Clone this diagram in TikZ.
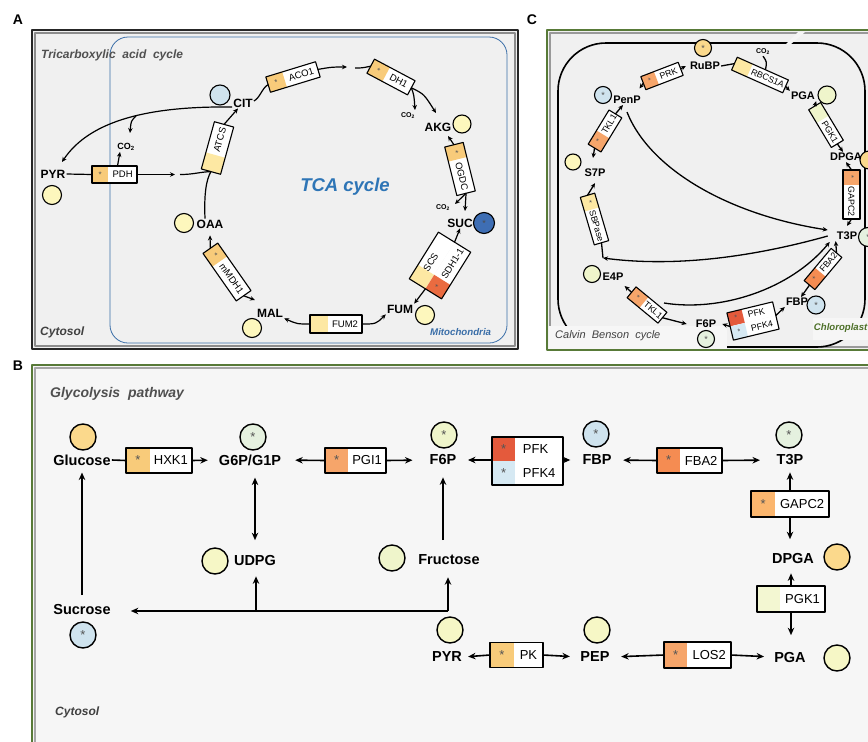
\documentclass[tikz,border=0pt]{standalone}
\usepackage{fontspec}
\setmainfont{Liberation Sans}
\usetikzlibrary{arrows.meta,calc}
\definecolor{cYel}{HTML}{FDF7BD}
\definecolor{cLBlue}{HTML}{CFE3EE}
\definecolor{cDBlue}{HTML}{3E6EB4}
\definecolor{cOY}{HTML}{F8CB7A}
\definecolor{cYel2}{HTML}{FDE8A3}
\definecolor{cRed}{HTML}{E45A3C}
\definecolor{cSDH}{HTML}{EA6B40}
\definecolor{cOr}{HTML}{F6A56A}
\definecolor{cOr2}{HTML}{F58C52}
\definecolor{cOr3}{HTML}{FBB66E}
\definecolor{cLB2}{HTML}{D6E9F3}
\definecolor{cLGY}{HTML}{EFF5CB}
\definecolor{cLG}{HTML}{E5F1DF}
\definecolor{cOYc}{HTML}{FBD98C}
\definecolor{cLY}{HTML}{F6F7C6}
\definecolor{cLY2}{HTML}{F3F7D2}
\definecolor{starcol}{HTML}{555555}
\definecolor{mitoc}{HTML}{3A6EA8}
\definecolor{tcac}{HTML}{2E75B6}
\definecolor{grnD}{HTML}{587A38}
\definecolor{labgray}{HTML}{505050}
\definecolor{bgA}{HTML}{F0F0F0}
\definecolor{bgB}{HTML}{F6F6F6}
\definecolor{chlg}{HTML}{4D7028}

\newcommand{\enzrow}[9]{%
  \pgfmathsetmacro\enzA{#6*0.5}\pgfmathsetmacro\enzB{0.5+#6*0.5}%
  \node[rotate=#3, minimum width=#4, minimum height=#5, inner sep=0pt, outer sep=0pt, fill=white] (#1) at #2 {};
  \fill[#7] (#1.south west) -- (#1.north west) -- ($(#1.north west)!#6!(#1.north east)$) -- ($(#1.south west)!#6!(#1.south east)$) -- cycle;
  \node[rotate=#3, enzstar] (#1-s) at ($(#1.west)!\enzA!(#1.east)$) {#8};
  \node[rotate=#3, enzlab] (#1-t) at ($(#1.west)!\enzB!(#1.east)$) {#9};
}
\newcommand{\enzborder}[1]{\draw[enzline] (#1.south west) -- (#1.north west) -- (#1.north east) -- (#1.south east) -- cycle;}
\newcommand{\enzyme}[9]{\enzrow{#1}{#2}{#3}{#4}{#5}{#6}{#7}{#8}{#9}\enzborder{#1}}

\tikzset{
  metA/.style={font=\bfseries\fontsize{12}{14}\selectfont, inner sep=1pt},
  metB/.style={font=\bfseries\fontsize{14.5}{16}\selectfont, inner sep=1pt},
  metC/.style={font=\bfseries\fontsize{11}{13}\selectfont, inner sep=1pt},
  co2l/.style={font=\bfseries\fontsize{9}{10}\selectfont, inner sep=1pt},
  co2s/.style={font=\bfseries\fontsize{7}{8}\selectfont, inner sep=1pt},
  mcirc/.style={circle, draw=black, line width=1.1pt, minimum size=#1, inner sep=0pt, text=starcol, font=\fontsize{9}{9}\selectfont},
  mcircB/.style={circle, draw=black, line width=1.4pt, minimum size=#1, inner sep=0pt, text=starcol, font=\fontsize{13}{13}\selectfont},
  lnA/.style={line width=1.2pt},
  arrA/.style={lnA, -{Stealth[length=5pt,width=4.5pt]}},
  lnC/.style={line width=1.3pt},
  arrC/.style={lnC, -{Stealth[length=5pt,width=4.5pt]}},
  lnB/.style={line width=1.6pt},
  arrB/.style={lnB, -{Stealth[length=7.5pt,width=6.5pt]}},
  arrBB/.style={lnB, {Stealth[length=7.5pt,width=6.5pt]}-{Stealth[length=7.5pt,width=6.5pt]}},
  plab/.style={font=\bfseries\fontsize{14}{14}\selectfont},
  ttl/.style={font=\bfseries\itshape\fontsize{12}{14}\selectfont, text=labgray, anchor=west, inner sep=0pt},
}

\begin{document}
\begin{tikzpicture}[x=1pt,y=-1pt,line join=round]
\useasboundingbox (0,0) rectangle (868,742);
\clip (0,0) rectangle (868,742);
\fill[white] (0,0) rectangle (868,742);

\node[plab] (labA) at (18,20) {A};
\node[plab] (labB) at (18,366) {B};
\node[plab] (labC) at (532,20) {C};

%%%%%%%%%%%%%%%% PANEL A
\begin{scope}[enzlab/.style={font=\fontsize{9.5}{10}\selectfont, inner sep=0pt},
  enzstar/.style={font=\fontsize{8}{8}\selectfont, text=starcol, inner sep=0pt},
  enzline/.style={draw=black, line width=1.1pt}]
\fill[bgA] (32,30) rectangle (518,349);
\draw[line width=1.5pt, draw=black!45] (35,33) rectangle (515,346);
\draw[line width=2pt, draw=black!85] (32,30) rectangle (518,349);
\draw[mitoc, line width=0.8pt, rounded corners=18pt] (110,37) rectangle (507,343);

\node[ttl] (ttlA) at (41,55) {Tricarboxylic\ \ acid\ \ cycle};
\node[ttl, text=black!75] (cytA) at (40,332) {Cytosol};
\node[ttl, text=mitoc, font=\bfseries\itshape\fontsize{9.7}{11}\selectfont] (mitoA) at (430,332) {Mitochondria};
\node[font=\bfseries\itshape\fontsize{18.5}{20}\selectfont, text=tcac] (tca) at (345,187) {TCA cycle};

\node[metA] (pyrA) at (53,174) {PYR};
\node[mcirc=19pt, fill=cYel] (pyrAc) at (52,195) {};
\node[metA] (cit) at (243,103) {CIT};
\node[mcirc=20pt, fill=cLBlue] (citc) at (220,95) {};
\node[metA] (akg) at (438,127) {AKG};
\node[mcirc=18pt, fill=cYel] (akgc) at (462,124) {};
\node[metA] (suc) at (460,223) {SUC};
\node[mcirc=21pt, fill=cDBlue, text=black!70] (succ) at (484,223) {*};
\node[metA] (fum) at (400,309) {FUM};
\node[mcirc=19pt, fill=cYel] (fumc) at (425,315) {};
\node[metA] (mal) at (270,313) {MAL};
\node[mcirc=19pt, fill=cYel] (malc) at (252,328) {};
\node[metA] (oaa) at (210,224) {OAA};
\node[mcirc=19pt, fill=cYel] (oaac) at (184,223) {};
\node[co2l] (co2a) at (126,147) {CO\textsubscript{2}};
\node[co2s] (co2b) at (408,116) {CO\textsubscript{2}};
\node[co2s] (co2c) at (443,208) {CO\textsubscript{2}};

\enzyme{pdh}{(114.5,174.5)}{0}{45pt}{17pt}{0.36}{cOY}{*}{PDH}
\enzyme{aco}{(293,77)}{17}{52pt}{16pt}{0.33}{cOY}{*}{ACO1}
\enzyme{dh}{(391,77)}{-28}{46pt}{16pt}{0.38}{cOY}{*}{DH1}
\enzyme{ogdc}{(460,169)}{-76}{50pt}{19pt}{0.3}{cOY}{*}{OGDC}
\enzyme{atcs}{(217.5,148)}{74.5}{49pt}{20pt}{0.35}{cYel2}{}{ATCS}
\enzyme{mmdh}{(227,272)}{-55}{58pt}{18pt}{0.28}{cOY}{*}{mMDH1}
\enzyme{fumt}{(336,324)}{0}{52pt}{18pt}{0.35}{cYel2}{}{FUM2}
\enzrow{scs}{(431.9,260.5)}{58}{55pt}{19pt}{0.3}{cYel2}{}{SCS\phantom{H1-1}}
\enzrow{sdh}{(448.1,270.5)}{58}{55pt}{19pt}{0.3}{cSDH}{*}{SDH1-1}
\draw[enzline] (scs.north west) -- (scs.north east) -- (sdh.south east) -- (sdh.south west) -- cycle;

\coordinate (tA1) at (175,174.5);
\coordinate (sA1) at (180,174.5);
\draw[lnA] (pyrA.east) -- (pdh.west);
\draw[arrA] (pdh.east) -- (tA1);
\draw[lnA] (sA1) .. controls (194,174.5) and (199,172) .. (atcs.west);
\draw[lnA] ([xshift=-5pt]oaa.north) .. controls (204,195) and (206,180) .. (atcs.west);
\draw[arrA] (atcs.east) -- ([xshift=-5pt]cit.south);
\draw[lnA] ([yshift=2pt]cit.east) .. controls (260,98) and (262,88) .. (aco.west);
\coordinate (tA2) at (347,67);
\coordinate (sA2) at (355,68);
\draw[arrA] (aco.east) .. controls (332,67) .. (tA2);
\draw[lnA] (sA2) .. controls (362,68) .. (dh.west);
\coordinate (tA3) at (415,110);
\draw[arrA] (dh.east) .. controls (414,95) .. (tA3);
\coordinate (tA4) at (436,113);
\draw[arrA] (dh.east) .. controls (424,94) .. (tA4);
\coordinate (tA5) at (448,136);
\draw[arrA] (ogdc.west) -- (tA5);
\coordinate (tA6) at (455,204);
\draw[arrA] (ogdc.east) -- (tA6);
\coordinate (tA7) at (465,211);
\draw[arrA] (ogdc.east) -- (tA7);
\draw[arrA] ($(scs.east)!0.5!(sdh.east)$) -- (suc.south);
\draw[arrA] ($(scs.west)!0.5!(sdh.west)$) -- (fum.north east);
\draw[arrA] (fumt.east) .. controls (376,324) .. (fum.south west);
\draw[arrA] (fumt.west) .. controls (297,324) .. (mal.south east);
\draw[arrA] (mmdh.west) -- ([yshift=-6pt]oaa.south);
\coordinate (tA8) at (255,300);
\draw[arrA] (mmdh.east) -- (tA8);
\coordinate (tA9) at (62,162);
\draw[arrA] ([yshift=-4pt]cit.west) .. controls (150,106) and (90,120) .. (tA9);
\coordinate (bA) at (136,116);
\coordinate (tA10) at (130,133);
\draw[arrA] (bA) .. controls (131,121) .. (tA10);
\draw[arrA] ([xshift=3pt]pdh.north) -- ([xshift=-6pt]co2a.south);
\end{scope}

%%%%%%%%%%%%%%%% PANEL C
\begin{scope}[enzlab/.style={font=\fontsize{8.8}{9}\selectfont, inner sep=0pt},
  enzstar/.style={font=\fontsize{7.5}{8}\selectfont, text=starcol, inner sep=0pt},
  enzline/.style={draw=black, line width=1.1pt}]
\fill[bgA] (547,30) rectangle (872,350);
\draw[line width=1.5pt, draw=black!40] (550,33) rectangle (875,347);
\draw[line width=2pt, draw=grnD] (547,30) rectangle (875,350);
\draw[line width=1.6pt, rounded corners=48pt] (558,43) rectangle (865,347);
\fill[white!92!gray] (798,32) -- (805,32) -- (791,44) -- (786,44) -- cycle;
\fill[bgB] (549,326) rectangle (727,348.5);
\fill[bgB] (813,318) rectangle (872,340);
\node[anchor=west, inner sep=0pt, font=\itshape\fontsize{11}{13}\selectfont, text=black!75] (cbc) at (555,336) {Calvin\ \ Benson\ \ cycle};
\node[anchor=east, inner sep=0pt, font=\bfseries\itshape\fontsize{9.6}{12}\selectfont, text=chlg] (chl) at (867.5,328) {Chloroplast};

\node[metC] (rubp) at (705,66) {RuBP};
\node[mcirc=17pt, fill=cOYc] (rubpc) at (703,48) {*};
\node[metC] (pga) at (803,96) {PGA};
\node[mcirc=18pt, fill=cLGY] (pgac) at (827,95) {};
\node[metC] (dpga) at (846,157) {DPGA};
\node[mcirc=18pt, fill=cOYc] (dpgac) at (869,160) {};
\node[metC] (t3p) at (847,236) {T3P};
\node[mcirc=19pt, fill=cLG] (t3pc) at (868,237) {*};
\node[metC] (fbp) at (797,302) {FBP};
\node[mcirc=18pt, fill=cLBlue] (fbpc) at (816,305) {*};
\node[metC] (f6p) at (706,324) {F6P};
\node[mcirc=17pt, fill=cLG] (f6pc) at (706,339) {*};
\node[metC] (e4p) at (613,277) {E4P};
\node[mcirc=17pt, fill=cLGY] (e4pc) at (592,274) {};
\node[metC] (s7p) at (595,173) {S7P};
\node[mcirc=16pt, fill=cYel] (s7pc) at (573,162) {};
\node[metC] (penp) at (627,100) {PenP};
\node[mcirc=17pt, fill=cLBlue] (penpc) at (603,95) {*};
\node[co2s] (co2d) at (763,52) {CO\textsubscript{2}};

\enzyme{prk}{(662,76)}{21}{40pt}{14pt}{0.35}{cOr}{*}{PRK}
\enzyme{rbcs}{(760,75)}{-24}{56pt}{14pt}{0.3}{cYel2}{}{RBCS1A}
\enzyme{pgk}{(826,125)}{-59}{44pt}{14pt}{0.35}{cLGY}{}{PGK1}
\enzyme{gapc}{(851.5,194.5)}{-90}{49pt}{17pt}{0.3}{cOr}{*}{GAPC2}
\enzyme{fba}{(823,269)}{50}{42pt}{14pt}{0.4}{cOr2}{*}{FBA2}
\enzrow{pfkc}{(751.4,314.2)}{13.6}{47pt}{14pt}{0.32}{cRed}{*}{PFK\phantom{4}}
\enzrow{pfkfc}{(754.6,327.8)}{13.6}{47pt}{14pt}{0.32}{cLB2}{*}{PFK4}
\draw[enzline] (pfkc.north west) -- (pfkc.north east) -- (pfkfc.south east) -- (pfkfc.south west) -- cycle;
\enzyme{tklb}{(647,305)}{-39.5}{40pt}{14pt}{0.4}{cOr}{*}{TKL1}
\enzyme{sbp}{(594.5,219)}{-73.6}{49.5pt}{15pt}{0.3}{cYel2}{*}{SBPase}
\enzyme{tklt}{(605,131)}{58.6}{40pt}{15pt}{0.4}{cOr}{*}{TKL1}

\draw[arrC] (prk.east) -- ([xshift=-3pt]rubp.west);
\coordinate (tC1) at (639.5,88.5);
\draw[arrC] (prk.west) -- (tC1);
\draw[lnC] (rubp.east) -- (rbcs.west);
\draw[lnC] (co2d.south) .. controls (767,62) .. ($(rbcs.north west)!0.55!(rbcs.north east)$);
\draw[arrC] (rbcs.east) -- (pga.north west);
\draw[arrC] (pgk.west) -- (pga.south east);
\draw[arrC] (pgk.east) -- ([xshift=-3pt]dpga.north);
\draw[arrC] (gapc.west) -- (dpga.south);
\draw[arrC] (gapc.east) -- ([yshift=5pt]t3p.north);
\draw[arrC] (fba.east) -- (t3p.south west);
\draw[arrC] (fba.west) -- ([xshift=4pt]fbp.north);
\draw[arrC] ($(pfkc.east)!0.5!(pfkfc.east)$) -- (fbp.south west);
\draw[arrC] ($(pfkc.west)!0.5!(pfkfc.west)$) -- ([xshift=5pt]f6p.east);
\draw[arrC] (tklb.west) -- ([yshift=-4pt]e4p.south east);
\draw[arrC] (tklb.east) -- ([xshift=-8pt]f6p.west);
\draw[arrC] (sbp.west) -- ([yshift=-5pt]s7p.south);
\coordinate (jE) at (603,258);
\draw[lnC] (sbp.east) -- (jE);
\draw[arrC] ([xshift=-8pt]t3p.west) .. controls (760,255) and (680,268) .. (jE);
\draw[arrC] ([yshift=-7pt]penp.south) .. controls (650,170) and (730,215) .. ([xshift=-8pt,yshift=6pt]t3p.west);
\coordinate (jT) at (664,303);
\draw[arrC] (jT) .. controls (720,312) and (790,290) .. ([xshift=-6pt,yshift=-6pt]t3p.west);
\draw[arrC] (tklt.east) -- ([xshift=-4pt]penp.south);
\draw[arrC] (tklt.west) -- ([xshift=-2pt,yshift=10pt]s7p.north);
\end{scope}

%%%%%%%%%%%%%%%% PANEL B
\begin{scope}[enzlab/.style={font=\fontsize{13}{14}\selectfont, inner sep=0pt},
  enzstar/.style={font=\fontsize{13}{13}\selectfont, text=starcol, inner sep=0pt},
  enzline/.style={draw=black, line width=1.4pt}]
\fill[bgB] (32,365) rectangle (875,746);
\draw[line width=1.5pt, draw=black!35] (35,368) rectangle (878,749);
\draw[line width=2pt, draw=grnD] (32,365) rectangle (878,749);
\node[ttl, font=\bfseries\itshape\fontsize{14}{16}\selectfont] (ttlB) at (50,394) {Glycolysis\ \ pathway};
\node[ttl, font=\bfseries\itshape\fontsize{12}{14}\selectfont, text=black!75] (cytB) at (55,712) {Cytosol};

\node[metB] (glc) at (82,460) {Glucose};
\node[mcircB=26pt, fill=cOYc] (glcc) at (83,437) {};
\node[metB] (g6p) at (250,460) {G6P/G1P};
\node[mcircB=26pt, fill=cLG] (g6pc) at (253,437) {*};
\node[metB] (f6pB) at (443,460) {F6P};
\node[mcircB=26pt, fill=cLGY] (f6pBc) at (444,435) {*};
\node[metB] (fbpB) at (597,460) {FBP};
\node[mcircB=26pt, fill=cLBlue] (fbpBc) at (596,434) {*};
\node[metB] (t3pB) at (790,460) {T3P};
\node[mcircB=26pt, fill=cLG] (t3pBc) at (789,435) {*};
\node[metB] (dpgaB) at (793,559) {DPGA};
\node[mcircB=26pt, fill=cOYc] (dpgaBc) at (837,557) {};
\node[metB] (pgaB) at (790,657) {PGA};
\node[mcircB=26pt, fill=cLY] (pgaBc) at (837,658) {};
\node[metB] (pepB) at (595,657) {PEP};
\node[mcircB=26pt, fill=cLY] (pepBc) at (597,630) {};
\node[metB] (pyrB) at (447,657) {PYR};
\node[mcircB=26pt, fill=cLY] (pyrBc) at (450,630) {};
\node[metB] (udpg) at (255,561) {UDPG};
\node[mcircB=26pt, fill=cLY] (udpgc) at (215,561) {};
\node[metB] (fru) at (449,560) {Fructose};
\node[mcircB=26pt, fill=cLGY] (fruc) at (392,558) {};
\node[metB] (sucB) at (82,610) {Sucrose};
\node[mcircB=26pt, fill=cLBlue] (sucBc) at (83,635) {*};

\enzyme{hxk}{(159,460.5)}{0}{66pt}{25pt}{0.36}{cOY}{*}{HXK1}
\enzyme{pgi}{(355.5,460.5)}{0}{61pt}{25pt}{0.38}{cOr}{*}{PGI1}
\enzrow{pfkB}{(527.5,449)}{0}{71pt}{24pt}{0.33}{cRed}{*}{PFK\phantom{4}}
\enzrow{pfk4B}{(527.5,473)}{0}{71pt}{24pt}{0.33}{cLB2}{*}{PFK4}
\draw[enzline] (pfkB.north west) -- (pfkB.north east) -- (pfk4B.south east) -- (pfk4B.south west) -- cycle;
\enzyme{fbaB}{(689.5,460.5)}{0}{65pt}{25pt}{0.36}{cOr2}{*}{FBA2}
\enzyme{gapcB}{(790,504)}{0}{78pt}{26pt}{0.31}{cOr3}{*}{GAPC2}
\enzyme{pgkB}{(791,599)}{0}{68pt}{26pt}{0.34}{cLY2}{}{PGK1}
\enzyme{los}{(697.5,655)}{0}{67pt}{26pt}{0.35}{cOr}{*}{LOS2}
\enzyme{pk}{(516.5,655)}{0}{53pt}{25pt}{0.45}{cOY}{*}{PK}

\draw[lnB] (glc.east) -- (hxk.west);
\draw[arrB, shorten >=10pt] (hxk.east) -- (g6p.west);
\draw[arrB, shorten >=13pt] (pgi.west) -- (g6p.east);
\draw[arrB, shorten >=16pt] (pgi.east) -- (f6pB.west);
\draw[arrB, shorten >=10.5pt] (pfkB.west |- f6pB.east) -- (f6pB.east);
\draw[arrB, shorten >=11pt] (pfkB.east |- fbpB.west) -- (fbpB.west);
\draw[arrB, shorten >=10.5pt] (fbaB.west) -- (fbpB.east);
\draw[arrB, shorten >=15.5pt] (fbaB.east) -- (t3pB.west);
\draw[arrB, shorten >=6pt] (gapcB.north) -- (gapcB.north |- t3pB.south);
\draw[arrB, shorten >=13.5pt] (gapcB.south) -- (gapcB.south |- dpgaB.north);
\draw[arrB, shorten >=8pt] (pgkB.north) -- (pgkB.north |- dpgaB.south);
\draw[arrB, shorten >=15.5pt] (pgkB.south) -- (pgkB.south |- pgaB.north);
\draw[arrB, shorten >=9pt] (los.east) -- (pgaB.west);
\draw[arrB, shorten >=10.5pt] (los.west) -- (pepB.east);
\draw[arrB, shorten >=9.5pt] (pk.east) -- (pepB.west);
\draw[arrB, shorten >=5pt] (pk.west) -- (pyrB.east);
\draw[arrBB, shorten <=11pt, shorten >=14.5pt] (g6p.south -| udpg) -- (udpg.north);
\draw[arrB, shorten <=13.5pt, shorten >=11pt] (fru.north -| f6pB) -- (f6pB.south);
\draw[arrB, shorten <=8.5pt, shorten >=6pt] (sucB.north -| glc) -- (glc.south);
\coordinate (jF) at (448,611);
\coordinate (jU) at (256,611);
\draw[arrB, shorten >=19pt] (jF) -- (jF -| sucB.east);
\draw[arrB, shorten >=9pt] (jU) -- (jU |- udpg.south);
\draw[arrB, shorten >=11pt] (jF) -- (jF |- fru.south);
\end{scope}
\end{tikzpicture}
\end{document}
